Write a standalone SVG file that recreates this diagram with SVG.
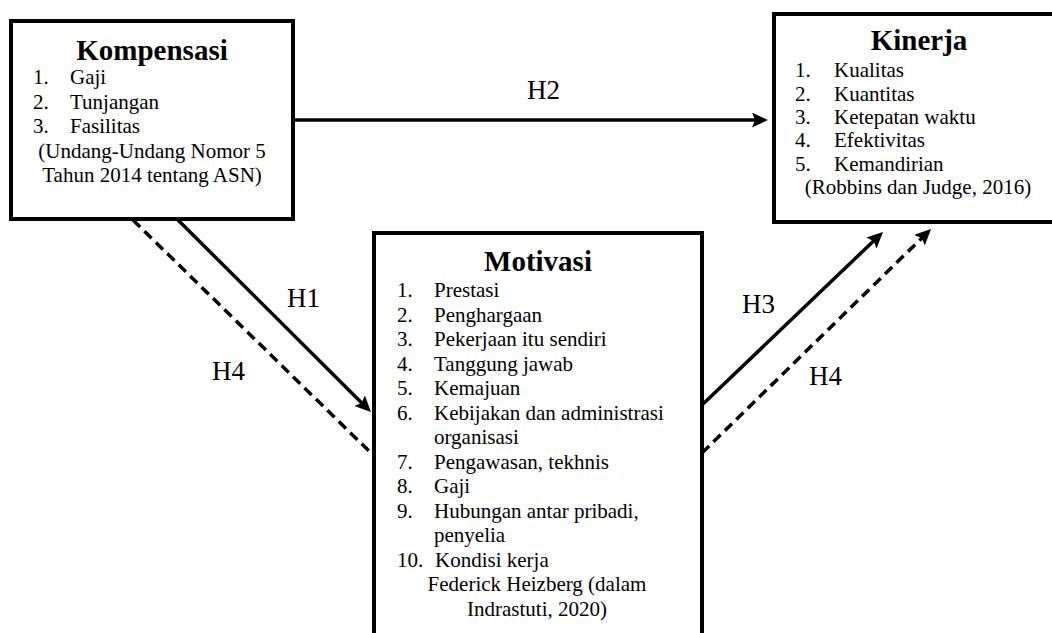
<svg xmlns="http://www.w3.org/2000/svg" width="1052" height="633" viewBox="0 0 1052 633">
  <style>
    .box { fill: #ffffff; stroke: #000000; stroke-width: 4; }
    .title { font-family: "Liberation Serif", "Times New Roman", serif; font-size: 29px; font-weight: bold; fill: #000000; text-anchor: middle; }
    .item { font-family: "Liberation Serif", "Times New Roman", serif; font-size: 21px; font-weight: normal; fill: #000000; }
    .mid { text-anchor: middle; }
    .lbl { font-family: "Liberation Serif", "Times New Roman", serif; font-size: 27px; font-weight: normal; fill: #000000; }
    .edge { fill: none; stroke: #000000; stroke-width: 3.5; }
    .dash { stroke-dasharray: 10 6; }
  </style>
  <defs>
    <marker id="arrow" markerUnits="userSpaceOnUse" markerWidth="18" markerHeight="16" refX="8" refY="7.5" orient="auto">
      <path d="M0,0 L16,7.5 L0,15 L3,7.5 z" fill="#000000"/>
    </marker>
  </defs>
  <rect width="1052" height="633" fill="#ffffff"/>

  <!-- connectors -->
  <g id="connectors">
    <line class="edge" x1="293" y1="120" x2="760" y2="120" marker-end="url(#arrow)"/>
    <line class="edge" x1="178" y1="220" x2="365.3" y2="406.4" marker-end="url(#arrow)"/>
    <line class="edge dash" x1="133" y1="220" x2="371" y2="453"/>
    <line class="edge" x1="702" y1="405" x2="877.2" y2="237.5" marker-end="url(#arrow)"/>
    <line class="edge dash" x1="702" y1="453" x2="925.3" y2="234.6" marker-end="url(#arrow)"/>
    <text class="lbl" x="527" y="99">H2</text>
    <text class="lbl" x="287" y="307">H1</text>
    <text class="lbl" x="212" y="380">H4</text>
    <text class="lbl" x="742" y="313">H3</text>
    <text class="lbl" x="809" y="385">H4</text>
  </g>

  <!-- Kompensasi -->
  <g id="kompensasi">
    <rect class="box" x="11" y="21" width="282" height="198"/>
    <text class="title" x="152" y="60">Kompensasi</text>
    <text class="item" x="33" y="84">1.</text><text class="item" x="70" y="84">Gaji</text>
    <text class="item" x="33" y="108.5">2.</text><text class="item" x="70" y="108.5">Tunjangan</text>
    <text class="item" x="33" y="133">3.</text><text class="item" x="70" y="133">Fasilitas</text>
    <text class="item mid" x="152" y="157.5">(Undang-Undang Nomor 5</text>
    <text class="item mid" x="152" y="182">Tahun 2014 tentang ASN)</text>
  </g>

  <!-- Kinerja -->
  <g id="kinerja">
    <rect class="box" x="774" y="14" width="290" height="208"/>
    <text class="title" x="919" y="50">Kinerja</text>
    <text class="item" x="795" y="77">1.</text><text class="item" x="834" y="77">Kualitas</text>
    <text class="item" x="795" y="100.5">2.</text><text class="item" x="834" y="100.5">Kuantitas</text>
    <text class="item" x="795" y="124">3.</text><text class="item" x="834" y="124">Ketepatan waktu</text>
    <text class="item" x="795" y="147">4.</text><text class="item" x="834" y="147">Efektivitas</text>
    <text class="item" x="795" y="170.5">5.</text><text class="item" x="834" y="170.5">Kemandirian</text>
    <text class="item mid" x="918" y="194">(Robbins dan Judge, 2016)</text>
  </g>

  <!-- Motivasi -->
  <g id="motivasi">
    <rect class="box" x="374" y="233" width="328" height="450"/>
    <text class="title" x="538" y="271">Motivasi</text>
    <text class="item" x="397" y="297">1.</text><text class="item" x="434" y="297">Prestasi</text>
    <text class="item" x="397" y="321.5">2.</text><text class="item" x="434" y="321.5">Penghargaan</text>
    <text class="item" x="397" y="346">3.</text><text class="item" x="434" y="346">Pekerjaan itu sendiri</text>
    <text class="item" x="397" y="370.5">4.</text><text class="item" x="434" y="370.5">Tanggung jawab</text>
    <text class="item" x="397" y="395">5.</text><text class="item" x="434" y="395">Kemajuan</text>
    <text class="item" x="397" y="419.5">6.</text><text class="item" x="434" y="419.5">Kebijakan dan administrasi</text>
    <text class="item" x="434" y="444">organisasi</text>
    <text class="item" x="397" y="468.5">7.</text><text class="item" x="434" y="468.5">Pengawasan, tekhnis</text>
    <text class="item" x="397" y="493">8.</text><text class="item" x="434" y="493">Gaji</text>
    <text class="item" x="397" y="517.5">9.</text><text class="item" x="434" y="517.5">Hubungan antar pribadi,</text>
    <text class="item" x="434" y="542">penyelia</text>
    <text class="item" x="397" y="566.5">10.</text><text class="item" x="435" y="566.5">Kondisi kerja</text>
    <text class="item mid" x="537" y="591">Federick Heizberg (dalam</text>
    <text class="item mid" x="537" y="615.5">Indrastuti, 2020)</text>
  </g>
</svg>
